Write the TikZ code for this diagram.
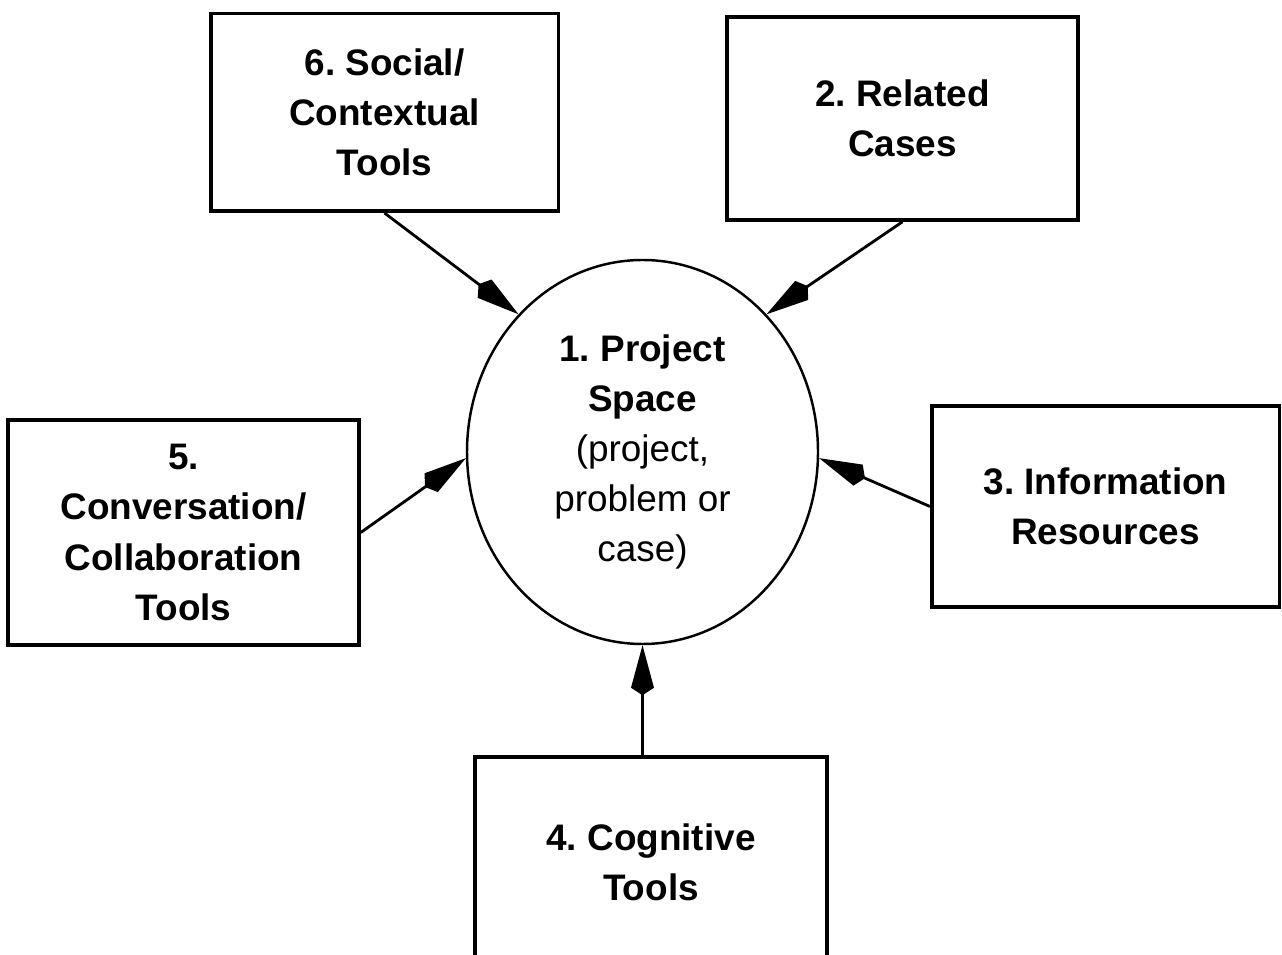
\documentclass[tikz,border=0pt]{standalone}
\usepackage{fontspec}
\setmainfont{Liberation Sans}
\usetikzlibrary{arrows.meta,shapes.geometric}
\frenchspacing

\begin{document}
\begin{tikzpicture}
        \tikzstyle{every node}=[font=\fontsize{21}{28.5}\selectfont\bfseries]
        \tikzstyle{toolbox}=[draw,line width=2pt,minimum width=6.95cm,minimum height=3.95cm,align=center,inner sep=0pt]
        \tikzstyle{feed}=[-{Kite[length=1cm,width=0.46cm,inset=0.15cm]},line width=1.6pt]
        \useasboundingbox (0,0) rectangle (25.64,19.08);

        %%% Centre
        \node[ellipse,draw,line width=1.4pt,minimum width=7.02cm,minimum height=7.68cm,inner sep=0pt,align=center] (proj) at (12.85,10.04) {1. Project\\Space\\{\mdseries (project,}\\{\mdseries problem or}\\{\mdseries case)}};

        %%% Tools round it
        \node[toolbox] (social) at (7.69,16.83) {6. Social/\\Contextual\\Tools};
        \node[toolbox,minimum width=7.02cm,minimum height=4.06cm] (cases) at (18.05,16.71) {2. Related\\Cases};
        \node[toolbox,minimum height=4.02cm] (info) at (22.11,8.95) {3. Information\\Resources};
        \node[toolbox,minimum width=7.02cm,minimum height=4.5cm] (conv) at (3.67,8.43) {5.\\Conversation/\\Collaboration\\Tools};
        \node[toolbox,minimum width=7.04cm,minimum height=4.2cm] (cog) at (13.02,1.84) {4. Cognitive\\Tools};

        \draw[feed] (social.south) -- (proj.132);
        \draw[feed] (cases.south) -- (proj.48);
        \draw[feed] (conv.east) -- (proj.182);
        \draw[feed] (info.west) -- (proj.358);
        \draw[feed] (cog.north -| proj.south) -- (proj.south);
\end{tikzpicture}
\end{document}
